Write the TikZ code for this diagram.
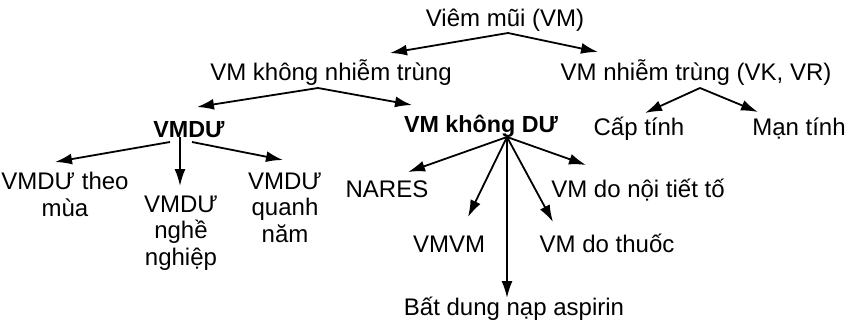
\documentclass[tikz,border=0pt]{standalone}
\usepackage{fontspec}
\setmainfont{Liberation Sans}
\usetikzlibrary{arrows.meta}
\tikzset{
  lbl/.style={inner sep=0pt, anchor=base, font=\fontsize{24}{26.5}\selectfont, align=center},
  blbl/.style={lbl, font=\fontsize{23.3}{26}\selectfont\bfseries},
  arr/.style={line width=1.8pt, -{Latex[length=17pt,width=11pt]}},
}
\begin{document}
\begin{tikzpicture}[x=1pt,y=-1pt]
\useasboundingbox (0,0) rectangle (854,324);
% nodes (multi-line nodes are placed by the baseline of their last line)
\node[lbl] (vm) at (505,27) {Viêm mũi (VM)};
\node[lbl] (vmk) at (331,80) {VM không nhiễm trùng};
\node[lbl] (vmn) at (696,80) {VM nhiễm trùng (VK, VR)};
\node[blbl] (vmdu) at (189,137) {VMDƯ};
\node[blbl] (vmkdu) at (481,132) {VM không DƯ};
\node[lbl] (theo) at (65,216) {VMDƯ theo\\mùa};
\node[lbl] (nghe) at (181,265) {VMDƯ\\nghề\\nghiệp};
\node[lbl] (quanh) at (285,242) {VMDƯ\\quanh\\năm};
\node[lbl] (nares) at (387,197) {NARES};
\node[lbl] (vmvm) at (449,252) {VMVM};
\node[lbl] (asp) at (514,315) {Bất dung nạp aspirin};
\node[lbl] (thuoc) at (607,252) {VM do thuốc};
\node[lbl] (noi) at (638,197) {VM do nội tiết tố};
\node[lbl] (cap) at (639,135) {Cấp tính};
\node[lbl] (man) at (799,135) {Mạn tính};
% apex and tip coordinates
\coordinate (a0) at (508,33);
\coordinate (t0l) at (390,53);
\coordinate (t0r) at (598,52);
\coordinate (a1) at (318,88);
\coordinate (t1l) at (197,107);
\coordinate (t1r) at (412,105);
\coordinate (a2) at (700,88);
\coordinate (t2l) at (645,113);
\coordinate (t2r) at (758,112);
\coordinate (a3l) at (170,142);
\coordinate (a3m) at (180,137);
\coordinate (a3r) at (192,142);
\coordinate (t3l) at (55,162);
\coordinate (t3m) at (180,186);
\coordinate (t3r) at (283,160);
\coordinate (a4) at (507,137);
\coordinate (t4a) at (408,172);
\coordinate (t4b) at (468,217);
\coordinate (t4c) at (507,298);
\coordinate (t4d) at (553,222);
\coordinate (t4e) at (586,165);
% connectors
\draw[arr] (a0) -- (t0l);
\draw[arr] (a0) -- (t0r);
\draw[arr] (a1) -- (t1l);
\draw[arr] (a1) -- (t1r);
\draw[arr] (a2) -- (t2l);
\draw[arr] (a2) -- (t2r);
\draw[arr] (a3l) -- (t3l);
\draw[arr] (a3m) -- (t3m);
\draw[arr] (a3r) -- (t3r);
\draw[arr] (a4) -- (t4a);
\draw[arr] (a4) -- (t4b);
\draw[arr] (a4) -- (t4c);
\draw[arr] (a4) -- (t4d);
\draw[arr] (a4) -- (t4e);
\end{tikzpicture}
\end{document}
